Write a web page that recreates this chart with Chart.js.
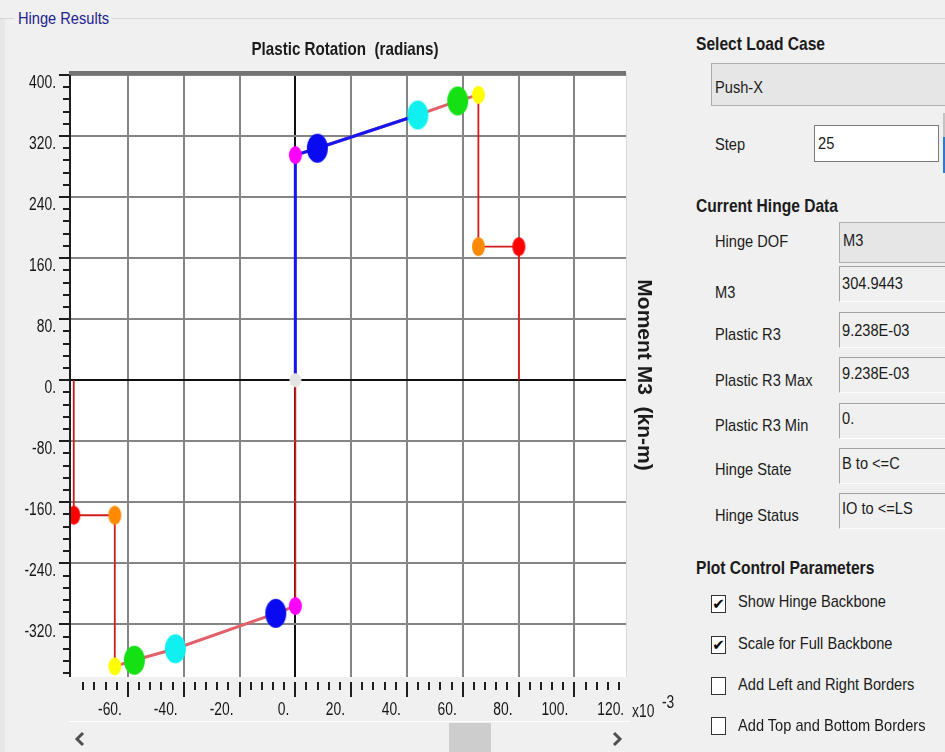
<!DOCTYPE html>
<html lang="en">
<head>
<meta charset="utf-8">
<title>Hinge Results</title>
<script src="https://cdn.jsdelivr.net/npm/chart.js@4.4.1/dist/chart.umd.min.js"></script>
<style>
  html, body { margin: 0; padding: 0; }
  body {
    width: 945px; height: 752px; overflow: hidden; position: relative;
    background: #f0f0f0; color: #1b1b1b;
    font-family: "Liberation Sans", Arial, sans-serif;
  }
  #chart { position: absolute; left: 0; top: 0; }
  .abs { position: absolute; white-space: nowrap; }
  /* narrow dialog lettering */
  .lbl { font-size: 17px; line-height: 20px; transform: scaleX(0.86); transform-origin: 0 0; }
  .hdr { font-size: 19px; line-height: 22px; font-weight: bold; transform: scaleX(0.82); transform-origin: 0 0; }
  .combo { background: #e6e6e6; border: 1px solid #adadad; box-sizing: border-box; }
  .edit { background: #fff; border: 1px solid #7a7a7a; box-sizing: border-box; }
  .ro { border-top: 1px solid #a3a3a3; border-left: 1px solid #a3a3a3; border-bottom: 1px solid #fdfdfd; box-sizing: border-box; }
  .chk { width: 15px; height: 18px; background: #fff; border: 1px solid #333; box-sizing: border-box;
         font: bold 15px "DejaVu Sans", sans-serif; text-align: center; line-height: 16px; color: #000; }
</style>
</head>
<body>
<!-- group frame -->
<div class="abs" style="left:0;top:18px;width:945px;height:734px;border-top:1px solid #d6d6d6;"></div>
<div class="abs" style="left:0;top:19px;width:5px;height:733px;background:#e7e7e7;"></div>
<div class="abs" style="left:14px;top:9px;width:98px;height:20px;background:#f0f0f0;"></div>
<div class="abs lbl" style="left:18px;top:9px;color:#23238e;">Hinge Results</div>

<canvas id="chart" width="690" height="752"></canvas>

<!-- horizontal scroll bar under the plot -->
<div class="abs" style="left:69px;top:721px;width:561px;height:1px;background:#ffffff;"></div>
<div class="abs" style="left:449px;top:723px;width:42px;height:29px;background:#cdcdcd;"></div>
<svg class="abs" style="left:74px;top:731px" width="12" height="16"><polyline points="9,2 3,8 9,14" fill="none" stroke="#505050" stroke-width="3"/></svg>
<svg class="abs" style="left:611px;top:731px" width="12" height="16"><polyline points="3,2 9,8 3,14" fill="none" stroke="#505050" stroke-width="3"/></svg>

<!-- load case -->
<div class="abs hdr" style="left:696px;top:33px;">Select Load Case</div>
<div class="abs combo" style="left:711px;top:63px;width:260px;height:43px;"></div>
<div class="abs lbl" style="left:715px;top:78px;">Push-X</div>
<div class="abs lbl" style="left:715px;top:135px;">Step</div>
<div class="abs edit" style="left:814px;top:125px;width:125px;height:37px;"></div>
<div class="abs lbl" style="left:818px;top:134px;">25</div>
<div class="abs" style="left:943px;top:113px;width:4px;height:24px;background:#c4c4c4;"></div>
<div class="abs" style="left:943px;top:137px;width:4px;height:36px;background:#2b7bd0;"></div>

<!-- current hinge data -->
<div class="abs hdr" style="left:696px;top:195px;">Current Hinge Data</div>
<div class="abs lbl" style="left:715px;top:232px;">Hinge DOF</div>
<div class="abs combo" style="left:839px;top:222px;width:130px;height:41px;"></div>
<div class="abs lbl" style="left:843px;top:231px;">M3</div>

<div class="abs lbl" style="left:715px;top:283px;">M3</div>
<div class="abs ro" style="left:839px;top:266px;width:130px;height:36px;"></div>
<div class="abs lbl" style="left:842px;top:274px;">304.9443</div>

<div class="abs lbl" style="left:715px;top:325px;">Plastic R3</div>
<div class="abs ro" style="left:839px;top:312px;width:130px;height:36px;"></div>
<div class="abs lbl" style="left:842px;top:321px;">9.238E-03</div>

<div class="abs lbl" style="left:715px;top:371px;">Plastic R3 Max</div>
<div class="abs ro" style="left:839px;top:357px;width:130px;height:36px;"></div>
<div class="abs lbl" style="left:842px;top:364px;">9.238E-03</div>

<div class="abs lbl" style="left:715px;top:416px;">Plastic R3 Min</div>
<div class="abs ro" style="left:839px;top:403px;width:130px;height:36px;"></div>
<div class="abs lbl" style="left:842px;top:409px;">0.</div>

<div class="abs lbl" style="left:715px;top:460px;">Hinge State</div>
<div class="abs ro" style="left:839px;top:448px;width:130px;height:36px;"></div>
<div class="abs lbl" style="left:842px;top:454px;">B to &lt;=C</div>

<div class="abs lbl" style="left:715px;top:506px;">Hinge Status</div>
<div class="abs ro" style="left:839px;top:493px;width:130px;height:36px;"></div>
<div class="abs lbl" style="left:842px;top:499px;">IO to &lt;=LS</div>

<!-- plot control parameters -->
<div class="abs hdr" style="left:696px;top:557px;">Plot Control Parameters</div>
<div class="abs chk" style="left:711px;top:595px;">&#10004;</div>
<div class="abs lbl" style="left:738px;top:592px;">Show Hinge Backbone</div>
<div class="abs chk" style="left:711px;top:636px;">&#10004;</div>
<div class="abs lbl" style="left:738px;top:634px;">Scale for Full Backbone</div>
<div class="abs chk" style="left:711px;top:677px;"></div>
<div class="abs lbl" style="left:738px;top:675px;">Add Left and Right Borders</div>
<div class="abs chk" style="left:711px;top:717px;"></div>
<div class="abs lbl" style="left:738px;top:716px;">Add Top and Bottom Borders</div>

<script>
// M3 hinge backbone: plastic rotation (x10^-3 rad) and moment (kN-m).
// Each branch runs A, B, IO, LS, CP, C, D, E and then drops back to zero moment.
const hingeStates = ['A', 'B', 'IO', 'LS', 'CP', 'C', 'D', 'E'];
const posRotation = [0, 0, 7.9, 43.9, 58.2, 65.6, 65.6, 80.1, 80.1];
const posMoment   = [0, 295, 304, 347.5, 366, 374, 175, 175, 0];
const negRotation = [0, 0, -7.0, -43.0, -57.7, -64.7, -64.7, -79.4, -79.4];
const negMoment   = [0, -296, -305.6, -352, -367, -375, -177, -177, 0];
// the hinge path so far follows the positive branch from A through LS
const pathPointCount = 4;

// axis ranges and tick spacing
const xRange = [-80.75, 118.5];
const yRange = [-389, 402.6];
const xMajor = 20, xMinor = 4, xLastLabel = 120;
const yMajor = 80, yMinor = 16;

const FONT = '"Liberation Sans", Arial, sans-serif';

const stateColor = { A: '#e4e4e4', B: '#ff00ff', IO: '#0a0af0', LS: '#10f0f0', CP: '#14e014', C: '#ffff00', D: '#ff8a00', E: '#ff0000' };
const stateSize  = { A: [12, 14], B: [13, 18], IO: [21, 29], LS: [21, 29], CP: [21, 29], C: [13, 18], D: [13, 19], E: [13, 19] };

function ellipseSprite(color, w, h) {
  const c = document.createElement('canvas');
  c.width = w + 2; c.height = h + 2;
  const g = c.getContext('2d');
  g.fillStyle = color;
  g.beginPath();
  g.ellipse(c.width / 2, c.height / 2, w / 2, h / 2, 0, 0, Math.PI * 2);
  g.fill();
  return c;
}

const toPoints = (xs, ys) => xs.map((x, i) => ({ x, y: ys[i] }));
const posBranch = toPoints(posRotation, posMoment);
const negBranch = toPoints(negRotation, negMoment);
const hingePath = posBranch.slice(0, pathPointCount);

// state markers: the whole positive branch plus the negative one without its repeated origin
const markerPoints = [], markerSprites = [];
hingeStates.forEach((s, i) => {
  markerPoints.push(posBranch[i]);
  markerSprites.push(ellipseSprite(stateColor[s], ...stateSize[s]));
});
hingeStates.forEach((s, i) => {
  if (i === 0) return;
  markerPoints.push(negBranch[i]);
  markerSprites.push(ellipseSprite(stateColor[s], ...stateSize[s]));
});

// B..C is drawn heavier than the rest of the backbone
const backboneSegment = {
  borderColor: ctx => (ctx.p0DataIndex >= 1 && ctx.p0DataIndex <= 4) ? '#e2606a' : '#d21c1c',
  borderWidth: ctx => (ctx.p0DataIndex >= 1 && ctx.p0DataIndex <= 4) ? 3 : 1.8
};

// white plot field, frame, minor/major tick marks and the x10^-3 multiplier
const plotFrame = {
  id: 'plotFrame',
  beforeDraw(chart) {
    const { ctx, chartArea: a } = chart;
    ctx.save();
    ctx.fillStyle = '#ffffff';
    ctx.fillRect(a.left, a.top, a.right - a.left, a.bottom - a.top);
    ctx.restore();
  },
  afterDraw(chart) {
    const { ctx, chartArea: a, scales: { x, y } } = chart;
    ctx.save();
    ctx.strokeStyle = '#1e1e1e';
    ctx.lineWidth = 2;
    for (let v = Math.ceil(x.min / xMinor) * xMinor; v <= x.max; v += xMinor) {
      if (v - x.min < 1 || x.max - v < 1) continue;
      const px = Math.round(x.getPixelForValue(v));
      const major = v % xMajor === 0;
      ctx.beginPath();
      ctx.moveTo(px, a.bottom + 5);
      ctx.lineTo(px, a.bottom + (major ? 20 : 13));
      ctx.stroke();
    }
    for (let v = Math.ceil(y.min / yMinor) * yMinor; v <= y.max; v += yMinor) {
      const py = Math.round(y.getPixelForValue(v));
      const major = v % yMajor === 0;
      ctx.beginPath();
      ctx.moveTo(a.left - (major ? 11 : 7), py);
      ctx.lineTo(a.left, py);
      ctx.stroke();
    }
    // left edge and heavy top edge of the plot
    ctx.fillStyle = '#1e1e1e';
    ctx.fillRect(a.left - 1, a.top - 2, 2, a.bottom - a.top + 2);
    ctx.fillStyle = '#747474';
    ctx.fillRect(a.left - 1, a.top - 2, a.right - a.left + 1, 4);
    ctx.fillStyle = '#dadada';
    ctx.fillRect(a.right, a.top, 1, a.bottom - a.top);
    // axis multiplier
    ctx.fillStyle = '#1b1b1b';
    ctx.textBaseline = 'alphabetic';
    ctx.textAlign = 'left';
    ctx.font = '18px ' + FONT;
    ctx.fillText('x10', a.right + 6, a.bottom + 39.5);
    ctx.fillText('-3', a.right + 36, a.bottom + 31);
    ctx.restore();
  }
};

// upright lettering on this canvas is set narrow; rotated titles keep full proportions
const canvas = document.getElementById('chart');
const c2d = canvas.getContext('2d');
const nativeFillText = c2d.fillText;
c2d.fillText = function (text, x, y) {
  const m = this.getTransform();
  if (m.b !== 0 || m.c !== 0) return nativeFillText.call(this, text, x, y);
  const k = /bold/.test(this.font) ? 0.82 : 0.77;
  this.save();
  this.translate(x, y);
  this.scale(k, 1);
  nativeFillText.call(this, text, 0, 0);
  this.restore();
};

Chart.defaults.font.family = FONT;
Chart.defaults.color = '#1b1b1b';

new Chart(canvas, {
  type: 'scatter',
  data: {
    datasets: [
      {
        label: 'States',
        data: markerPoints,
        pointStyle: markerSprites,
        pointRadius: 10,
        showLine: false,
        clip: 0,
        order: 0
      },
      {
        label: 'Hinge path',
        data: hingePath,
        showLine: true,
        borderColor: '#1616f0',
        borderWidth: 3,
        pointRadius: 0,
        clip: 0,
        order: 1
      },
      {
        label: 'Backbone +',
        data: posBranch,
        showLine: true,
        pointRadius: 0,
        segment: backboneSegment,
        borderColor: '#d21c1c',
        clip: 0,
        order: 2
      },
      {
        label: 'Backbone -',
        data: negBranch,
        showLine: true,
        pointRadius: 0,
        segment: backboneSegment,
        borderColor: '#d21c1c',
        clip: 0,
        order: 2
      }
    ]
  },
  options: {
    responsive: false,
    animation: false,
    devicePixelRatio: 1,
    events: [],
    layout: { padding: 0 },
    plugins: {
      legend: { display: false },
      tooltip: { enabled: false },
      title: {
        display: true,
        text: 'Plastic Rotation  (radians)',
        color: '#1b1b1b',
        font: { family: FONT, size: 18.5, weight: 'bold', lineHeight: 1.2 },
        padding: { top: 38.9, bottom: 11.9 }
      }
    },
    scales: {
      x: {
        type: 'linear',
        position: 'bottom',
        min: xRange[0],
        max: xRange[1],
        afterBuildTicks: scale => {
          const kept = scale.ticks.filter(t => t.value - scale.min > 2);
          kept.push({ value: xLastLabel });
          scale.ticks = kept;
        },
        afterFit: scale => { scale.height = 75; },
        ticks: {
          stepSize: xMajor,
          includeBounds: false,
          autoSkip: false,
          maxRotation: 0,
          align: 'end',
          labelOffset: -6,
          padding: 22,
          font: { size: 18 },
          color: '#151515',
          callback: v => v + '.'
        },
        grid: {
          drawTicks: false,
          lineWidth: 2,
          color: ctx => {
            const v = ctx.tick ? ctx.tick.value : null;
            if (v === null || v > xRange[1]) return 'rgba(0,0,0,0)';
            return v === 0 ? '#111111' : '#858585';
          }
        },
        border: { display: false }
      },
      y: {
        type: 'linear',
        position: 'left',
        min: yRange[0],
        max: yRange[1],
        afterFit: scale => { scale.width = 70; },
        ticks: {
          stepSize: yMajor,
          includeBounds: false,
          autoSkip: false,
          labelOffset: 8,
          padding: 14,
          font: { size: 18 },
          color: '#151515',
          callback: v => v + '.'
        },
        grid: {
          drawTicks: false,
          lineWidth: 2,
          color: ctx => (ctx.tick && ctx.tick.value === 0) ? '#111111' : '#858585'
        },
        border: { display: false }
      },
      yTitle: {
        type: 'linear',
        position: 'right',
        min: 0,
        max: 1,
        afterFit: scale => { scale.width = 64; },
        ticks: { display: false },
        grid: { display: false, drawTicks: false },
        border: { display: false },
        title: {
          display: true,
          text: 'Moment M3  (kn-m)',
          color: '#1b1b1b',
          font: { family: FONT, size: 21, weight: 'bold', lineHeight: 1.2 },
          padding: { top: 33.4, bottom: 0 }
        }
      }
    }
  },
  plugins: [plotFrame]
});
</script>
</body>
</html>
